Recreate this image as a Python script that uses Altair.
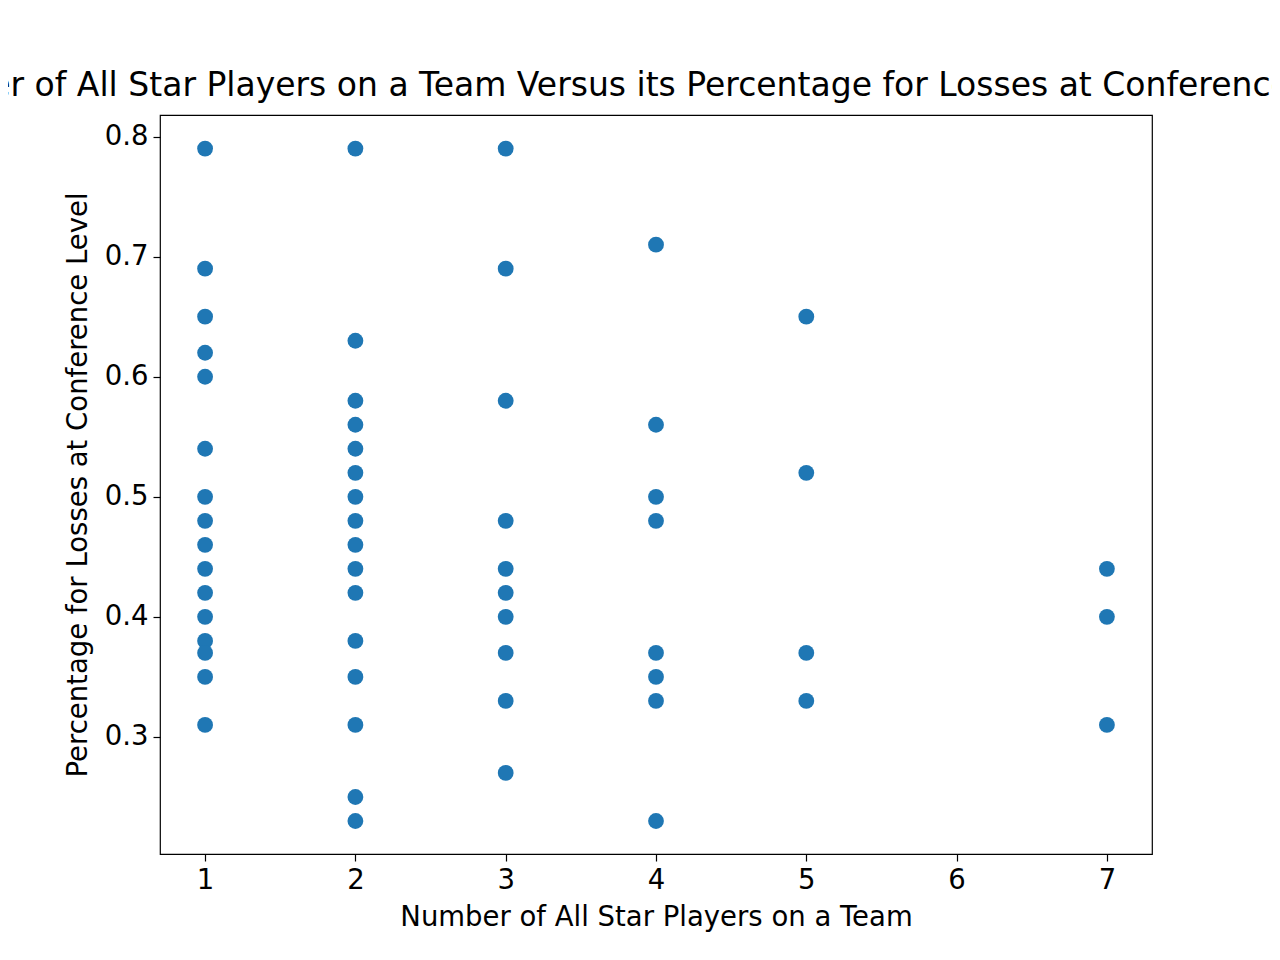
import altair as alt
import pandas as pd

x1 = [0.79,0.69,0.65,0.62,0.60,0.54,0.50,0.48,0.46,0.44,0.42,0.40,0.38,0.37,0.35,0.31]
x2 = [0.79,0.63,0.58,0.56,0.54,0.52,0.50,0.48,0.46,0.44,0.42,0.38,0.35,0.31,0.25,0.23]
x3 = [0.79,0.69,0.58,0.48,0.44,0.42,0.40,0.37,0.33,0.27]
x4 = [0.71,0.56,0.50,0.48,0.37,0.35,0.33,0.23]
x5 = [0.65,0.52,0.37,0.33]
x7 = [0.44,0.40,0.31]

rows = []
for n, vals in [(1, x1), (2, x2), (3, x3), (4, x4), (5, x5), (7, x7)]:
    rows += [{"stars": n, "loss": v} for v in vals]
df = pd.DataFrame(rows)

F = "DejaVu Sans"
chart = alt.Chart(df).mark_circle(size=250, color="#1f77b4", opacity=1).encode(
    x=alt.X("stars:Q", scale=alt.Scale(domain=[0.70, 7.30], nice=False, zero=False),
            axis=alt.Axis(values=[1,2,3,4,5,6,7], format="d", title="Number of All Star Players on a Team")),
    y=alt.Y("loss:Q", scale=alt.Scale(domain=[0.2025, 0.818], nice=False, zero=False),
            axis=alt.Axis(values=[0.3,0.4,0.5,0.6,0.7,0.8], format=".1f", title="Percentage for Losses at Conference Level")),
).properties(
    width=992, height=739,
    autosize=alt.AutoSizeParams(type="none"),
    padding={"left": 152, "top": 107, "right": 120, "bottom": 90},
    title=alt.Title("Number of All Star Players on a Team Versus its Percentage for Losses at Conference Level",
                    font=F, fontSize=33, fontWeight="normal", color="black", anchor="middle", dx=-16, offset=12),
).configure_view(stroke="black", strokeWidth=1.2).configure_axis(
    grid=False, domain=False, tickColor="black", tickSize=7, tickWidth=1.2,
    labelFont=F, labelFontSize=27.5, labelColor="black", labelPadding=5,
    titleFont=F, titleFontSize=27.5, titleFontWeight="normal", titleColor="black",
).configure_axisX(titlePadding=10).configure_axisY(titlePadding=12)

chart.save("out.html", embed_options={"renderer": "svg", "actions": False})
